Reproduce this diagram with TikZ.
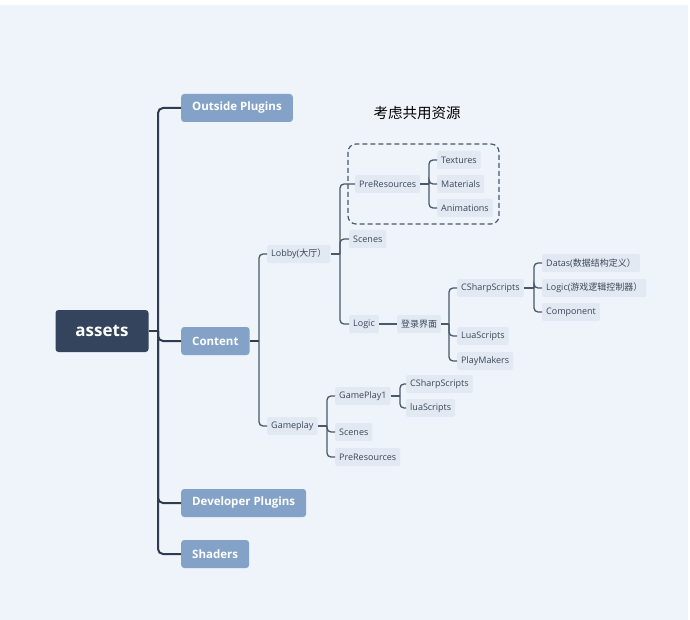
\documentclass[tikz,border=0pt]{standalone}
\usepackage{fontspec}
\setmainfont{Open Sans}
\newfontfamily\cjk{Noto Sans CJK SC}
\usepackage{tikz}
\definecolor{colorBg}{HTML}{EEF4FA}
\definecolor{colorRoot}{HTML}{33445C}
\definecolor{colorMain}{HTML}{84A2C8}
\definecolor{colorSub}{HTML}{E2E9F2}
\definecolor{colorText}{HTML}{3B4657}
\definecolor{colorLine}{HTML}{2E3B50}
\definecolor{colorSubLine}{HTML}{4B586C}
\tikzset{
  rootbox/.style={fill=colorRoot, text=white, rounded corners=3pt, minimum width=93pt, minimum height=42pt, inner sep=0pt, font=\fontsize{17}{20}\selectfont\bfseries},
  mainbox/.style={anchor=west, fill=colorMain, text=white, rounded corners=3pt, minimum height=28pt, inner xsep=11pt, inner ysep=0pt, font=\fontsize{11.5}{14}\selectfont\bfseries},
  subbox/.style={anchor=west, fill=colorSub, text=colorText, rounded corners=2pt, minimum height=18pt, inner xsep=4pt, inner ysep=0pt, font=\fontsize{9}{10}\selectfont},
  mainlink/.style={draw=colorLine, line width=2pt, rounded corners=5pt},
  sublink/.style={draw=colorSubLine, line width=1.3pt, rounded corners=4pt},
}

\begin{document}
\begin{tikzpicture}[x=1pt, y=-1pt]
    \useasboundingbox (0,0) rectangle (690,620);
    \fill[colorBg] (0,5) rectangle (688,620);
    \node[rootbox] (assets) at (102,331) {assets};
    \node[mainbox] (outside) at (181,108) {Outside Plugins};
    \node[mainbox] (content) at (181,341) {Content};
    \node[mainbox] (devplug) at (181,503) {Developer Plugins};
    \node[mainbox] (shaders) at (181,554) {Shaders};
    \node[subbox] (lobby) at (267,254) {Lobby({\cjk 大厅）}};
    \node[subbox] (gameplay) at (267,426) {Gameplay};
    \node[subbox] (preres) at (355,184) {PreResources};
    \node[subbox] (scenes) at (349,239) {Scenes};
    \node[subbox] (logic) at (349,324) {Logic};
    \node[subbox] (textures) at (437,160) {Textures};
    \node[subbox] (materials) at (437,184) {Materials};
    \node[subbox] (animations) at (437,208) {Animations};
    \node[subbox] (login) at (397,324) {\cjk 登录界面};
    \node[subbox] (csharp) at (457,288) {CSharpScripts};
    \node[subbox] (lua) at (457,336) {LuaScripts};
    \node[subbox] (playmakers) at (457,361) {PlayMakers};
    \node[subbox] (datas) at (542,263) {Datas({\cjk 数据结构定义）}};
    \node[subbox] (logicctl) at (542,288) {Logic({\cjk 游戏逻辑控制器）}};
    \node[subbox] (component) at (542,312) {Component};
    \node[subbox] (gameplayone) at (335,396) {GamePlay1};
    \node[subbox] (gpscenes) at (335,432) {Scenes};
    \node[subbox] (gppreres) at (335,457) {PreResources};
    \node[subbox] (gpcsharp) at (406,384) {CSharpScripts};
    \node[subbox] (gplua) at (406,408) {luaScripts};
    \node (title) at (417,113) {\cjk\fontsize{14.5}{16}\selectfont 考虑共用资源};
    \draw[colorSubLine, line width=1.2pt, dash pattern=on 5pt off 3pt, rounded corners=8pt] (348,144) rectangle (499,224);
    \coordinate (jassets) at (158,331);
    \coordinate (jcontent) at (259,341);
    \coordinate (jlobby) at (340,254);
    \coordinate (jpreres) at (429,184);
    \coordinate (jlogin) at (449,324);
    \coordinate (jcsharp) at (534,288);
    \coordinate (jgameplay) at (327,426);
    \coordinate (jgameplayone) at (400,396);
    \draw[mainlink] (assets.east) -- (jassets);
    \foreach \n in {outside,content,devplug,shaders}
        \draw[mainlink] (jassets) |- (\n.west);
    \draw[mainlink] (content.east) -- (jcontent);
    \foreach \n in {lobby,gameplay}
        \draw[sublink] (jcontent) |- (\n.west);
    \draw[sublink, line width=1.8pt] (lobby.east) -- (jlobby);
    \foreach \n in {preres,scenes,logic}
        \draw[sublink] (jlobby) |- (\n.west);
    \draw[sublink, line width=1.8pt] (preres.east) -- (jpreres);
    \foreach \n in {textures,materials,animations}
        \draw[sublink] (jpreres) |- (\n.west);
    \draw[sublink] (logic.east) -- (login.west);
    \draw[sublink, line width=1.8pt] (login.east) -- (jlogin);
    \foreach \n in {csharp,lua,playmakers}
        \draw[sublink] (jlogin) |- (\n.west);
    \draw[sublink, line width=1.8pt] (csharp.east) -- (jcsharp);
    \foreach \n in {datas,logicctl,component}
        \draw[sublink] (jcsharp) |- (\n.west);
    \draw[sublink, line width=1.8pt] (gameplay.east) -- (jgameplay);
    \foreach \n in {gameplayone,gpscenes,gppreres}
        \draw[sublink] (jgameplay) |- (\n.west);
    \draw[sublink, line width=1.8pt] (gameplayone.east) -- (jgameplayone);
    \foreach \n in {gpcsharp,gplua}
        \draw[sublink] (jgameplayone) |- (\n.west);
\end{tikzpicture}
\end{document}
